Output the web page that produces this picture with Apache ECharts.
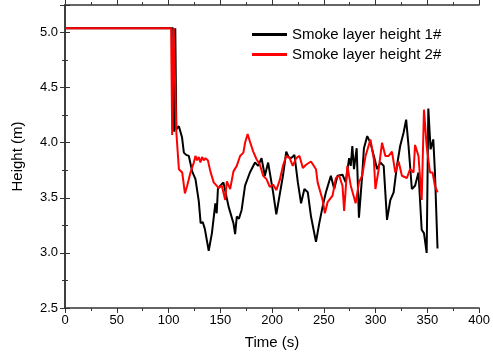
<!DOCTYPE html>
<html>
<head>
<meta charset="utf-8">
<script src="https://cdn.jsdelivr.net/npm/echarts@6/dist/echarts.min.js"></script>
<style>html,body{margin:0;padding:0;background:#fff}#c{width:493px;height:356px}</style>
</head>
<body>
<div id="c"></div>
<script>
var seriesNames = ['Smoke layer height 1#', 'Smoke layer height 2#'];
var xTitle = 'Time (s)';
var yTitle = 'Height (m)';
var xTicks = [0, 50, 100, 150, 200, 250, 300, 350, 400];
var yTicks = [2.5, 3.0, 3.5, 4.0, 4.5, 5.0];

var smoke1 = [[0,5.04],[104.5,5.04],[105.5,4.1],[106.5,5.04],[107.5,4.12],[110,4.15],[111.7,4.14],[113,4.05],[114.8,3.91],[117,3.89],[119.6,3.88],[122.8,3.74],[126,3.67],[129.2,3.47],[131,3.27],[133,3.28],[135,3.22],[138.8,3.02],[141.9,3.18],[145.2,3.45],[146.5,3.36],[147.7,3.58],[150,3.61],[153,3.64],[158,3.42],[162.7,3.27],[164.3,3.17],[165.9,3.33],[168,3.31],[170.6,3.39],[173.9,3.61],[178.6,3.73],[183.5,3.82],[186.6,3.79],[189.8,3.86],[193,3.70],[196.2,3.82],[201,3.55],[204.1,3.35],[205.8,3.35],[210.5,3.70],[213.7,3.92],[216,3.87],[218.5,3.86],[221.6,3.89],[224.9,3.64],[228,3.45],[231.2,3.58],[234.5,3.55],[237.6,3.33],[242.4,3.10],[245.6,3.27],[248.8,3.42],[252,3.55],[256.8,3.70],[260,3.58],[263.2,3.70],[268,3.71],[271.1,3.64],[274.4,3.86],[276,3.79],[277.5,3.97],[279.1,3.76],[281.7,3.95],[283.9,3.32],[287,3.70],[288.7,3.95],[291.9,4.06],[295,4.0],[298.3,3.88],[301.5,3.76],[304.6,3.82],[307.8,3.79],[311,3.30],[314.2,3.48],[317.4,3.55],[320.6,3.79],[323.7,3.97],[327,4.09],[329.5,4.21],[331.8,3.97],[335,3.58],[338.1,3.61],[341.4,3.73],[344.5,3.21],[346.7,3.18],[349.3,3.00],[350.9,4.31],[353.1,3.94],[355.7,4.03],[357.3,3.73],[359.8,3.04]];

var smoke2 = [[0,5.04],[102.5,5.04],[103.5,4.07],[105,5.04],[106.5,5.04],[107.5,4.1],[110,3.76],[113.2,3.73],[115.8,3.54],[118,3.61],[121.2,3.73],[124.4,3.82],[126,3.88],[127.6,3.84],[129.2,3.87],[130.8,3.82],[132.4,3.87],[134,3.84],[135.6,3.86],[138,3.84],[140.4,3.74],[143.6,3.64],[148.3,3.59],[151.5,3.61],[154.7,3.48],[156.3,3.65],[159.5,3.58],[162.7,3.74],[165.9,3.79],[169.1,3.88],[172.3,3.91],[173.9,4.0],[176.4,4.08],[178.6,4.01],[181.8,3.92],[185,3.85],[188.2,3.80],[191.4,3.70],[194.6,3.67],[197.8,3.6],[201,3.62],[204.1,3.57],[207.4,3.66],[210.5,3.79],[213.7,3.88],[217,3.86],[220,3.79],[223.3,3.86],[226.5,3.88],[229.7,3.77],[232.8,3.80],[237.6,3.83],[242.4,3.76],[244,3.64],[248.8,3.48],[251,3.36],[253.6,3.46],[258.4,3.52],[261.6,3.68],[264.8,3.70],[268,3.61],[269.6,3.38],[272.7,3.79],[276,3.61],[280.7,3.45],[283.9,3.64],[287,3.70],[290.3,3.88],[295,4.03],[298.3,3.85],[299.8,3.58],[303,3.76],[306.2,4.0],[309.4,3.88],[312.6,3.88],[315.8,3.92],[319,3.73],[322.2,3.83],[325.4,3.70],[330.2,3.68],[333.3,3.76],[336.6,3.73],[338.1,3.98],[341.4,3.88],[344.5,3.48],[346.7,4.30],[349.3,3.97],[352.5,3.73],[355,3.73],[357.3,3.61],[359.8,3.55]];

var FONT = 'Liberation Sans, Arial, sans-serif';
var axisCol = '#333';
var chart = echarts.init(document.getElementById('c'), null, {renderer: 'canvas'});

function mainX(pos, showLabels) {
  return {
    type: 'value', position: pos, min: xTicks[0], max: xTicks[xTicks.length - 1], interval: 50,
    name: showLabels ? xTitle : '', nameLocation: 'middle', nameGap: 27,
    nameTextStyle: {fontFamily: FONT, fontSize: 15, color: '#000'},
    axisLine: {show: true, lineStyle: {color: axisCol, width: 1.5}},
    axisTick: {show: true, inside: false, length: 5, lineStyle: {color: axisCol, width: 1}},
    minorTick: {show: true, splitNumber: 2, length: 3, lineStyle: {color: axisCol, width: 1}},
    axisLabel: {show: showLabels, fontFamily: FONT, fontSize: 13, color: '#000', margin: 6},
    splitLine: {show: false}, minorSplitLine: {show: false}
  };
}
function mainY(pos, showLabels) {
  return {
    type: 'value', position: pos, min: yTicks[0], max: 5.25, interval: 0.5,
    name: showLabels ? yTitle : '', nameLocation: 'middle', nameGap: 40,
    nameTextStyle: {fontFamily: FONT, fontSize: 15, color: '#000'},
    axisLine: {show: true, lineStyle: {color: axisCol, width: 1.5}},
    axisTick: {show: true, inside: false, length: 5, lineStyle: {color: axisCol, width: 1}},
    minorTick: {show: true, splitNumber: 2, length: 3, lineStyle: {color: axisCol, width: 1}},
    axisLabel: {show: showLabels, fontFamily: FONT, fontSize: 13, color: '#000', margin: 7,
      showMaxLabel: false,
      formatter: function (v) {
        for (var i = 0; i < yTicks.length; i++) { if (Math.abs(yTicks[i] - v) < 1e-6) return yTicks[i].toFixed(1); }
        return '';
      }},
    splitLine: {show: false}, minorSplitLine: {show: false}
  };
}

chart.setOption({
  animation: false,
  backgroundColor: '#fff',
  grid: {left: 65, right: 10, top: 5, bottom: 48, containLabel: false},
  legend: {
    data: seriesNames, orient: 'vertical', left: 252, top: 27, itemGap: 5, padding: 0,
    icon: 'rect', itemWidth: 35, itemHeight: 3,
    textStyle: {fontFamily: FONT, fontSize: 15, color: '#000'}
  },
  xAxis: [mainX('bottom', true), mainX('top', false)],
  yAxis: [mainY('left', true), mainY('right', false)],
  series: [
    {name: seriesNames[0], type: 'line', data: smoke1, symbol: 'none', xAxisIndex: 0, yAxisIndex: 0,
     lineStyle: {color: '#000', width: 2}, itemStyle: {color: '#000'}},
    {name: seriesNames[1], type: 'line', data: smoke2, symbol: 'none', xAxisIndex: 0, yAxisIndex: 0,
     lineStyle: {color: '#ff0000', width: 2}, itemStyle: {color: '#ff0000'}}
  ]
});
</script>
</body>
</html>
